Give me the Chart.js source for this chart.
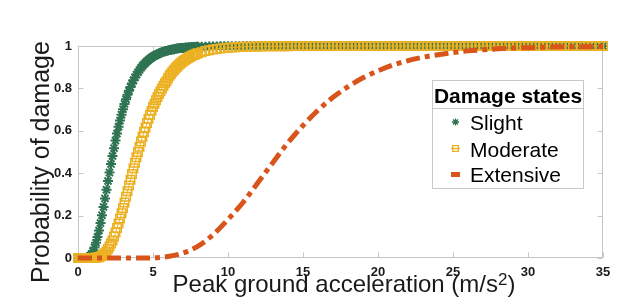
<!DOCTYPE html>
<html>
<head>
<meta charset="utf-8">
<script src="https://cdn.jsdelivr.net/npm/chart.js@4/dist/chart.umd.min.js"></script>
<style>
  html, body { margin: 0; padding: 0; background: #ffffff; }
  canvas { display: block; }
</style>
</head>
<body>
<canvas id="c" width="619" height="308"></canvas>
<script>
// ---------------- DATA ----------------
const seriesNames = ['Slight', 'Moderate', 'Extensive'];
const xTicks = [0, 5, 10, 15, 20, 25, 30, 35];
const yTicks = [0, 0.2, 0.4, 0.6, 0.8, 1];
const yTickLabels = ['0', '0.2', '0.4', '0.6', '0.8', '1'];

// PGA grid for Slight / Moderate (m/s^2)
const pgaFine = [
  0,0.1,0.2,0.3,0.4,0.5,0.6,0.7,0.8,0.9,
  1,1.1,1.2,1.3,1.4,1.5,1.6,1.7,1.8,1.9,
  2,2.1,2.2,2.3,2.4,2.5,2.6,2.7,2.8,2.9,
  3,3.1,3.2,3.3,3.4,3.5,3.6,3.7,3.8,3.9,
  4,4.1,4.2,4.3,4.4,4.5,4.6,4.7,4.8,4.9,
  5,5.1,5.2,5.3,5.4,5.5,5.6,5.7,5.8,5.9,
  6,6.1,6.2,6.3,6.4,6.5,6.6,6.7,6.8,6.9,
  7,7.1,7.2,7.3,7.4,7.5,7.6,7.7,7.8,7.9,
  8,
  8.25,8.5,8.75,9,9.25,9.5,9.75,10,10.25,10.5,10.75,11,
  11.25,11.5,11.75,12,12.25,12.5,12.75,13,13.25,13.5,13.75,14,
  14.25,14.5,14.75,15,15.25,15.5,15.75,16,16.25,16.5,16.75,17,
  17.25,17.5,17.75,18,18.25,18.5,18.75,19,19.25,19.5,19.75,20,
  20.25,20.5,20.75,21,21.25,21.5,21.75,22,22.25,22.5,22.75,23,
  23.25,23.5,23.75,24,24.25,24.5,24.75,25,25.25,25.5,25.75,26,
  26.25,26.5,26.75,27,27.25,27.5,27.75,28,28.25,28.5,28.75,29,
  29.25,29.5,29.75,30,30.25,30.5,30.75,31,31.25,31.5,31.75,32,
  32.25,32.5,32.75,33,33.25,33.5,33.75,34,34.25,34.5,34.75,35
];

const slight = [
  0,0,0,0,0,0,0.002,0.004,0.010,0.019,
  0.032,0.050,0.072,0.099,0.130,0.165,0.202,0.241,0.281,0.322,
  0.363,0.403,0.443,0.481,0.518,0.554,0.587,0.619,0.648,0.676,
  0.702,0.727,0.749,0.770,0.789,0.807,0.823,0.838,0.852,0.865,
  0.876,0.887,0.897,0.906,0.914,0.921,0.928,0.934,0.940,0.945,
  0.950,0.954,0.958,0.961,0.965,0.968,0.970,0.973,0.975,0.977,
  0.979,0.981,0.982,0.984,0.985,0.987,0.988,0.989,0.990,0.990,
  0.991,0.992,0.993,0.993,0.994,0.994,0.995,0.995,0.995,0.996,
  0.996,
  0.997,0.997,0.998,0.998,0.998,0.999,0.999,0.999,0.999,0.999,0.999,0.999,
  1,1,1,1,1,1,1,1,1,1,1,1,
  1,1,1,1,1,1,1,1,1,1,1,1,
  1,1,1,1,1,1,1,1,1,1,1,1,
  1,1,1,1,1,1,1,1,1,1,1,1,
  1,1,1,1,1,1,1,1,1,1,1,1,
  1,1,1,1,1,1,1,1,1,1,1,1,
  1,1,1,1,1,1,1,1,1,1,1,1,
  1,1,1,1,1,1,1,1,1,1,1,1
];

const moderate = [
  0,0,0,0,0,0,0,0,0,0,
  0,0.001,0.001,0.003,0.004,0.007,0.011,0.016,0.023,0.031,
  0.042,0.054,0.068,0.083,0.101,0.120,0.141,0.163,0.186,0.211,
  0.236,0.262,0.289,0.315,0.342,0.369,0.396,0.423,0.449,0.475,
  0.500,0.525,0.549,0.572,0.594,0.616,0.637,0.657,0.676,0.694,
  0.712,0.728,0.744,0.759,0.774,0.787,0.800,0.812,0.824,0.834,
  0.848,0.860,0.869,0.878,0.887,0.895,0.902,0.909,0.916,0.922,
  0.928,0.933,0.938,0.942,0.946,0.950,0.954,0.957,0.960,0.963,
  0.966,
  0.971,0.976,0.980,0.983,0.986,0.988,0.990,0.992,0.993,0.994,0.995,0.996,
  0.997,0.997,0.998,0.998,0.998,0.999,0.999,0.999,0.999,0.999,0.999,0.999,
  1,1,1,1,1,1,1,1,1,1,1,1,
  1,1,1,1,1,1,1,1,1,1,1,1,
  1,1,1,1,1,1,1,1,1,1,1,1,
  1,1,1,1,1,1,1,1,1,1,1,1,
  1,1,1,1,1,1,1,1,1,1,1,1,
  1,1,1,1,1,1,1,1,1,1,1,1,
  1,1,1,1,1,1,1,1,1,1,1,1
];

// PGA grid for Extensive
const pgaCoarse = [0,1,2,3,4,5,6,7,8,9,10,11,12,13,14,15,16,17,18,19,20,21,22,23,24,25,26,27,28,29,30,31,32,33,34,35];
const extensive = [
  0,0,0,0,0,0.001,0.007,0.023,0.056,0.110,
  0.182,0.262,0.356,0.451,0.544,0.625,0.697,0.758,0.808,0.850,
  0.883,0.910,0.931,0.947,0.959,0.969,0.977,0.982,0.987,0.990,
  0.992,0.994,0.996,0.997,0.997,0.998
];

// ---------------- STYLE ----------------
const FONT = "'Liberation Sans', Arial, Helvetica, sans-serif";
const GREEN = '#2e7352';
const YELLOW = '#ecb122';
const ORANGE = '#d9541a';
const FRAME = '#c6c6c6';
const TEXT = '#1a1a1a';

const toPts = (xs, ys) => xs.map((x, i) => ({ x: x, y: ys[i] }));

const framePlugin = {
  id: 'frame',
  beforeDatasetsDraw(chart) {
    const { ctx, chartArea: a, scales } = chart;
    const L = Math.round(a.left) + 0.5, R = Math.round(a.right) - 0.5;
    const T = Math.round(a.top) + 0.5, B = Math.round(a.bottom) - 0.5;
    ctx.save();
    ctx.strokeStyle = FRAME;
    ctx.lineWidth = 1;
    ctx.strokeRect(L, T, R - L, B - T);
    ctx.beginPath();
    xTicks.forEach(v => {
      const px = Math.round(scales.x.getPixelForValue(v)) + 0.5;
      ctx.moveTo(px, B); ctx.lineTo(px, B - 5);
      ctx.moveTo(px, T); ctx.lineTo(px, T + 5);
    });
    yTicks.forEach(v => {
      const py = Math.round(scales.y.getPixelForValue(v)) + 0.5;
      ctx.moveTo(L, py); ctx.lineTo(L + 5, py);
      ctx.moveTo(R, py); ctx.lineTo(R - 5, py);
    });
    ctx.stroke();
    ctx.restore();
  }
};

const textPlugin = {
  id: 'texts',
  afterDraw(chart) {
    const { ctx } = chart;
    ctx.save();
    ctx.fillStyle = TEXT;
    // Y axis title
    ctx.save();
    ctx.translate(42, 162);
    ctx.rotate(-Math.PI / 2);
    ctx.font = '25px ' + FONT;
    ctx.textAlign = 'center';
    ctx.textBaseline = 'middle';
    ctx.fillText('Probability of damage', 0, 0);
    ctx.restore();
    // X axis title with superscript
    const main = 'Peak ground acceleration (m/s';
    ctx.font = '24px ' + FONT;
    const wMain = ctx.measureText(main).width;
    const wClose = ctx.measureText(')').width;
    ctx.font = '17px ' + FONT;
    const wSup = ctx.measureText('2').width;
    const total = wMain + wSup + wClose;
    const x0 = 344 - total / 2;
    const base = 292;
    ctx.textAlign = 'left';
    ctx.textBaseline = 'alphabetic';
    ctx.font = '24px ' + FONT;
    ctx.fillText(main, x0, base);
    ctx.font = '17px ' + FONT;
    ctx.fillText('2', x0 + wMain, base - 7);
    ctx.font = '24px ' + FONT;
    ctx.fillText(')', x0 + wMain + wSup, base);
    ctx.restore();

    // Legend
    const bx = 432.5, by = 80.5, bw = 151, bh = 108;
    ctx.save();
    ctx.fillStyle = '#ffffff';
    ctx.fillRect(bx, by, bw, bh);
    ctx.strokeStyle = '#c8c8c8';
    ctx.lineWidth = 1;
    ctx.strokeRect(bx, by, bw, bh);
    ctx.beginPath();
    ctx.moveTo(bx, 108.5); ctx.lineTo(bx + bw, 108.5);
    ctx.stroke();
    ctx.fillStyle = '#000000';
    ctx.font = 'bold 21px ' + FONT;
    ctx.textAlign = 'center';
    ctx.textBaseline = 'alphabetic';
    ctx.fillText('Damage states', bx + bw / 2, 103);
    ctx.font = '21px ' + FONT;
    ctx.textAlign = 'left';
    const rows = [130, 156.5, 182];
    seriesNames.forEach((name, i) => {
      ctx.fillStyle = '#000000';
      ctx.fillText(name, 470, rows[i]);
      const my = rows[i] - 8;
      const ds = chart.data.datasets[i];
      if (i === 2) {
        ctx.fillStyle = ORANGE;
        ctx.fillRect(451, my - 2, 9, 5);
      } else {
        ctx.strokeStyle = ds.borderColor;
        ctx.fillStyle = 'rgba(0,0,0,0)';
        ctx.lineWidth = 1.3;
        Chart.helpers.drawPoint(ctx, { pointStyle: ds.pointStyle, radius: i === 0 ? 3.5 : 4, borderWidth: 1.3, rotation: 0 }, 455.5, my);
        if (i === 1) {
          ctx.beginPath(); ctx.moveTo(451, my); ctx.lineTo(460, my); ctx.stroke();
        }
      }
    });
    ctx.restore();
  }
};

new Chart(document.getElementById('c'), {
  type: 'scatter',
  data: {
    datasets: [
      {
        label: seriesNames[0],
        data: toPts(pgaFine, slight),
        showLine: true,
        borderColor: GREEN,
        backgroundColor: 'rgba(0,0,0,0)',
        borderWidth: 1,
        pointStyle: 'star',
        pointRadius: 5,
        pointBorderWidth: 2,
        pointBorderColor: GREEN,
        pointBackgroundColor: 'rgba(0,0,0,0)',
        order: 3,
        clip: 8
      },
      {
        label: seriesNames[1],
        data: toPts(pgaFine, moderate),
        showLine: true,
        borderColor: YELLOW,
        backgroundColor: 'rgba(0,0,0,0)',
        borderWidth: 1,
        pointStyle: 'rect',
        pointRadius: 6,
        pointBorderWidth: 1.5,
        pointBorderColor: YELLOW,
        pointBackgroundColor: 'rgba(0,0,0,0)',
        order: 2,
        clip: 8
      },
      {
        label: seriesNames[2],
        data: toPts(pgaCoarse, extensive),
        showLine: true,
        borderColor: ORANGE,
        backgroundColor: 'rgba(0,0,0,0)',
        borderWidth: 5,
        borderDash: [14, 5, 5, 5],
        borderCapStyle: 'butt',
        cubicInterpolationMode: 'monotone',
        pointRadius: 0,
        order: 1,
        clip: 8
      }
    ]
  },
  options: {
    responsive: false,
    animation: false,
    devicePixelRatio: 1,
    events: [],
    layout: { padding: { left: 0, right: 16, top: 46, bottom: 0 } },
    plugins: { legend: { display: false }, tooltip: { enabled: false } },
    scales: {
      x: {
        type: 'linear',
        min: 0, max: 35,
        grid: { display: false, drawTicks: false },
        border: { display: false },
        ticks: {
          stepSize: 5,
          maxRotation: 0,
          padding: 7,
          color: TEXT,
          font: { family: FONT, size: 13, weight: 'bold' }
        },
        afterFit: s => { s.height = 50; }
      },
      y: {
        type: 'linear',
        min: 0, max: 1,
        grid: { display: false, drawTicks: false },
        border: { display: false },
        ticks: {
          stepSize: 0.2,
          padding: 6,
          color: TEXT,
          font: { family: FONT, size: 13, weight: 'bold' },
          callback: (v) => {
            const i = yTicks.findIndex(t => Math.abs(t - v) < 1e-6);
            return i >= 0 ? yTickLabels[i] : '';
          }
        },
        afterFit: s => { s.width = 78; }
      }
    }
  },
  plugins: [framePlugin, textPlugin]
});
</script>
</body>
</html>
